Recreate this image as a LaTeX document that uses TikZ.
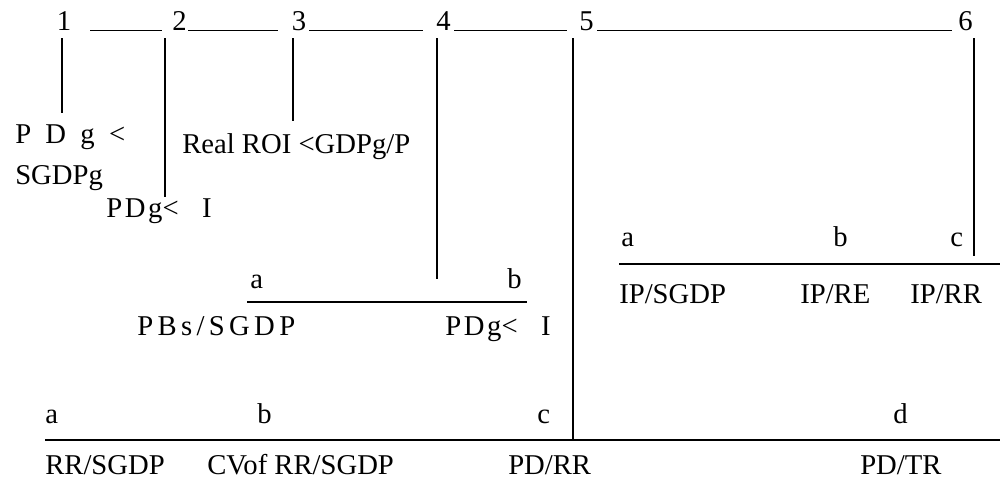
\documentclass[tikz,border=0pt]{standalone}
\usepackage{fontspec}
\setmainfont{Liberation Serif}
\begin{document}
\begin{tikzpicture}[x=0.75pt,y=-0.75pt,
  txt/.style={inner sep=0pt,anchor=base west,font=\fontsize{21.5}{25}\selectfont},
  num/.style={inner sep=0pt,anchor=base,font=\fontsize{21.5}{25}\selectfont},
  ln/.style={line width=0.8pt}]
\useasboundingbox (0,0) rectangle (1000,480);
% top numbers
\node[num] (n1) at (64,30.5) {1};
\node[num] (n2) at (179.5,30.5) {2};
\node[num] (n3) at (299,30.5) {3};
\node[num] (n4) at (443.5,30.5) {4};
\node[num] (n5) at (586.5,30.5) {5};
\node[num] (n6) at (965.5,30.5) {6};
% top segments
\coordinate (t1a) at (90,30.7); \coordinate (t1b) at (162,30.7);
\coordinate (t2a) at (188,30.7); \coordinate (t2b) at (278,30.7);
\coordinate (t3a) at (309,30.7); \coordinate (t3b) at (423,30.7);
\coordinate (t4a) at (454,30.7); \coordinate (t4b) at (567,30.7);
\coordinate (t5a) at (597,30.7); \coordinate (t5b) at (952,30.7);
\draw[ln] (t1a) -- (t1b) (t2a) -- (t2b) (t3a) -- (t3b) (t4a) -- (t4b) (t5a) -- (t5b);
% vertical lines
\coordinate (v1a) at (62,38); \coordinate (v1b) at (62,113);
\coordinate (v2a) at (165,38); \coordinate (v2b) at (165,197);
\coordinate (v3a) at (293,38); \coordinate (v3b) at (293,121);
\coordinate (v4a) at (437,38); \coordinate (v4b) at (437,279);
\coordinate (v5a) at (573,38); \coordinate (v5b) at (573,439);
\coordinate (v6a) at (974,38); \coordinate (v6b) at (974,256);
\draw[ln] (v1a) -- (v1b) (v2a) -- (v2b) (v3a) -- (v3b) (v4a) -- (v4b) (v5a) -- (v5b) (v6a) -- (v6b);
% horizontal lines
\coordinate (h1a) at (247,302); \coordinate (h1b) at (527,302);
\coordinate (h2a) at (619,264); \coordinate (h2b) at (1000,264);
\coordinate (h3a) at (45,440); \coordinate (h3b) at (1000,440);
\draw[ln] (h1a) -- (h1b) (h2a) -- (h2b) (h3a) -- (h3b);
% texts under 1,2,3
\node[txt] (c1a) at (15,143) {\makebox[82.5pt][s]{P\hfill D\hfill g\hfill <}};
\node[txt] (c1b) at (15,184) {SGDPg};
\node[txt] (c2) at (106,217) {\makebox[79pt][s]{P\hspace{2pt}D\hspace{2pt}g<\hfill I}};
\node[txt] (c3) at (182,153) {Real ROI <GDPg/P};
% under 4
\node[txt] (m4a) at (250,288) {a};
\node[txt] (m4b) at (507,288) {b};
\node[txt] (m4x) at (137,335) {\makebox[118.5pt][s]{P\hfill B\hfill s\hfill /\hfill S\hfill G\hfill D\hfill P}};
\node[txt] (m4y) at (445,335) {\makebox[79pt][s]{P\hspace{2pt}D\hspace{2pt}g<\hfill I}};
% under 6
\node[txt] (r6a) at (621,246) {a};
\node[txt] (r6b) at (833,246) {b};
\node[txt] (r6c) at (950,246) {c};
\node[txt] (r6x) at (619,303) {IP/SGDP};
\node[txt] (r6y) at (800,303) {IP/RE};
\node[txt] (r6z) at (910,303) {IP/RR};
% bottom
\node[txt] (ba) at (45,423) {a};
\node[txt] (bb) at (257,423) {b};
\node[txt] (bc) at (537,423) {c};
\node[txt] (bd) at (893,423) {d};
\node[txt] (bw) at (45,474) {RR/SGDP};
\node[txt] (bx) at (207,474) {CVof RR/SGDP};
\node[txt] (by) at (508,474) {PD/RR};
\node[txt] (bz) at (860,474) {PD/TR};
\end{tikzpicture}
\end{document}
